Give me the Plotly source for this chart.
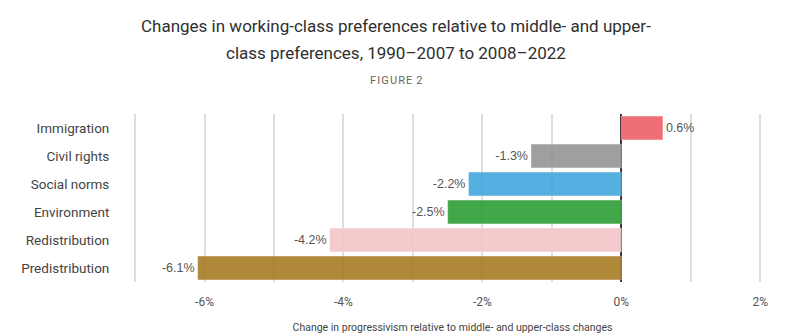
import plotly.graph_objects as go

categories = ["Immigration", "Civil rights", "Social norms", "Environment", "Redistribution", "Predistribution"]
values = [0.6, -1.3, -2.2, -2.5, -4.2, -6.1]
colors = ["#ed6068", "#959595", "#43a7dd", "#2e9e36", "#f5c5c7", "#a77c25"]
tick_vals = [-6, -4, -2, 0, 2]
tick_text = ["-6%", "-4%", "-2%", "0%", "2%"]
labels = [f"{v:.1f}%" for v in values]

FONT = "Roboto"
LFONT = "Liberation Sans"
HS = "\u200a"

fig = go.Figure(go.Bar(
    x=values, y=categories, orientation="h",
    marker=dict(color=colors, opacity=0.9, line=dict(width=1, color="rgba(255,255,255,0.4)")),
    text=labels, textposition="outside", cliponaxis=False,
    textfont=dict(family=LFONT, size=12.5, color="#555555"),
    hoverinfo="skip",
))

fig.update_layout(
    width=792, height=334,
    margin=dict(l=133, r=20, t=114, b=52),
    paper_bgcolor="white", plot_bgcolor="white",
    showlegend=False, bargap=0.15,
    font=dict(family=FONT, color="#444444"),
    xaxis=dict(
        range=[-7.03, 2.17], tickvals=tick_vals, ticktext=tick_text,
        showgrid=True, gridcolor="#dcdcdc", gridwidth=1.5,
        minor=dict(dtick=1, tick0=0, showgrid=True, gridcolor="#dcdcdc", gridwidth=1.5),
        zeroline=True, zerolinecolor="#333333", zerolinewidth=1.5,
        ticks="outside", ticklen=9, tickcolor="rgba(0,0,0,0)",
        tickfont=dict(family=FONT, size=12, color="#555555"),
        title=dict(text="Change in progressivism relative to middle- and upper-class changes",
                   font=dict(family=FONT, size=10.5, color="#444444"), standoff=17),
        showline=False, automargin=False,
    ),
    yaxis=dict(
        categoryorder="array", categoryarray=categories, autorange="reversed",
        showgrid=False, showline=False, zeroline=False,
        ticks="outside", ticklen=20, tickcolor="rgba(0,0,0,0)",
        tickfont=dict(family=FONT, size=13.5, color="#444444"),
        automargin=False,
    ),
    annotations=[
        dict(text="Changes in working-class preferences relative to middle- and upper-",
             xref="paper", yref="paper", x=(396 - 133) / (792 - 153), y=(282 - 26) / 168,
             xanchor="center", yanchor="middle", showarrow=False,
             font=dict(family=FONT, size=17, color="#2f2f2f")),
        dict(text="class preferences, 1990–2007 to 2008–2022",
             xref="paper", yref="paper", x=(396 - 133) / (792 - 153), y=(282 - 53) / 168,
             xanchor="center", yanchor="middle", showarrow=False,
             font=dict(family=FONT, size=17, color="#2f2f2f")),
        dict(text=HS.join("FIGURE") + HS + " 2",
             xref="paper", yref="paper", x=(396 - 133) / (792 - 153), y=(282 - 80) / 168,
             xanchor="center", yanchor="middle", showarrow=False,
             font=dict(family=FONT, size=11, color="#666666")),
    ],
)

fig.write_html("out.html")
